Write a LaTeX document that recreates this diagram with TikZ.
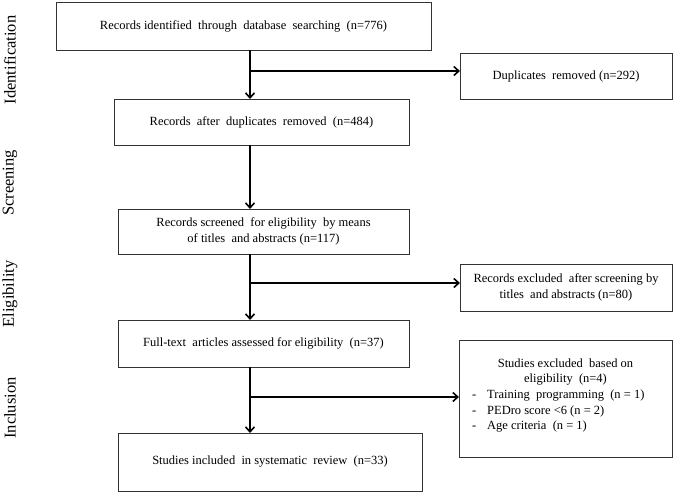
\documentclass[tikz,border=0pt]{standalone}
\usepackage{fontspec}
\setmainfont{Liberation Serif}
\usetikzlibrary{arrows.meta}
\tikzset{
  box/.style={draw=black!80, line width=0.9pt, fill=white, inner sep=0pt, outer sep=0pt, align=center,
    font=\fontsize{12.5}{15.5}\selectfont},
  txt/.style={inner sep=0pt, outer sep=0pt, font=\fontsize{12.5}{15.5}\selectfont},
  phase/.style={rotate=90, inner sep=0pt, font=\fontsize{16.5}{18}\selectfont},
  conn/.style={line width=1.6pt, black},
  arr/.style={conn, -{Straight Barb[length=5pt,width=9pt,line width=1.6pt]}},
}
\begin{document}
\begin{tikzpicture}[x=1pt,y=-1pt]
\useasboundingbox (0,0) rectangle (675,499);
% phase labels
\node[phase] (lid) at (10,60) {Identification};
\node[phase] (lsc) at (10,183) {Screening};
\node[phase] (lel) at (10,294) {Eligibility};
\node[phase] (lin) at (10,408) {Inclusion};
% main column
\node[box, minimum width=375pt, minimum height=48pt] (b1) at (243.5,26) {Records identified\ \ through\ \ database\ \ searching\ \ (n=776)};
\node[box, minimum width=295pt, minimum height=46pt] (b2) at (261.5,122) {Records\ \ after\ \ duplicates\ \ removed\ \ (n=484)};
\node[box, minimum width=291pt, minimum height=45pt] (b3) at (263.5,231.5) {Records screened\ \ for eligibility\ \ by means\\of titles\ \ and abstracts (n=117)};
\node[box, minimum width=291pt, minimum height=47pt] (b4) at (263.5,343.5) {Full-text\ \ articles assessed for eligibility\ \ (n=37)};
\node[box, minimum width=304pt, minimum height=58pt] (b5) at (270,462) {Studies included\ \ in systematic\ \ review\ \ (n=33)};
% side boxes
\node[box, minimum width=212pt, minimum height=46pt] (d1) at (566,76) {Duplicates\ \ removed (n=292)};
\node[box, minimum width=212pt, minimum height=47pt] (d2) at (566,287.5) {Records excluded\ \ after screening by\\titles\ \ and abstracts (n=80)};
\node[box, minimum width=213pt, minimum height=117pt] (d3) at (565.5,398.5) {};
\node[txt, align=center] (d3h) at (565.5,372) {Studies excluded\ \ based on\\eligibility\ \ (n=4)};
\node[txt, align=left, anchor=north west] (d3l) at (472,390) {-\hspace{11pt}Training\ \ programming\ \ (n = 1)\\-\hspace{11pt}PEDro score <6 (n = 2)\\-\hspace{11pt}Age criteria\ \ (n = 1)};
% branch points
\coordinate (j1) at (250,71);
\coordinate (j2) at (250,283);
\coordinate (j3) at (250,397);
% connectors
\draw[arr] (b1.south -| j1) -- (b2.north -| j1);
\draw[arr] (b2.south -| j1) -- (b3.north -| j1);
\draw[arr] (b3.south -| j1) -- (b4.north -| j1);
\draw[arr] (b4.south -| j1) -- (b5.north -| j1);
\draw[arr] (j1) -- (j1 -| d1.west);
\draw[arr] (j2) -- (j2 -| d2.west);
\draw[arr] (j3) -- (j3 -| d3.west);
\end{tikzpicture}
\end{document}
